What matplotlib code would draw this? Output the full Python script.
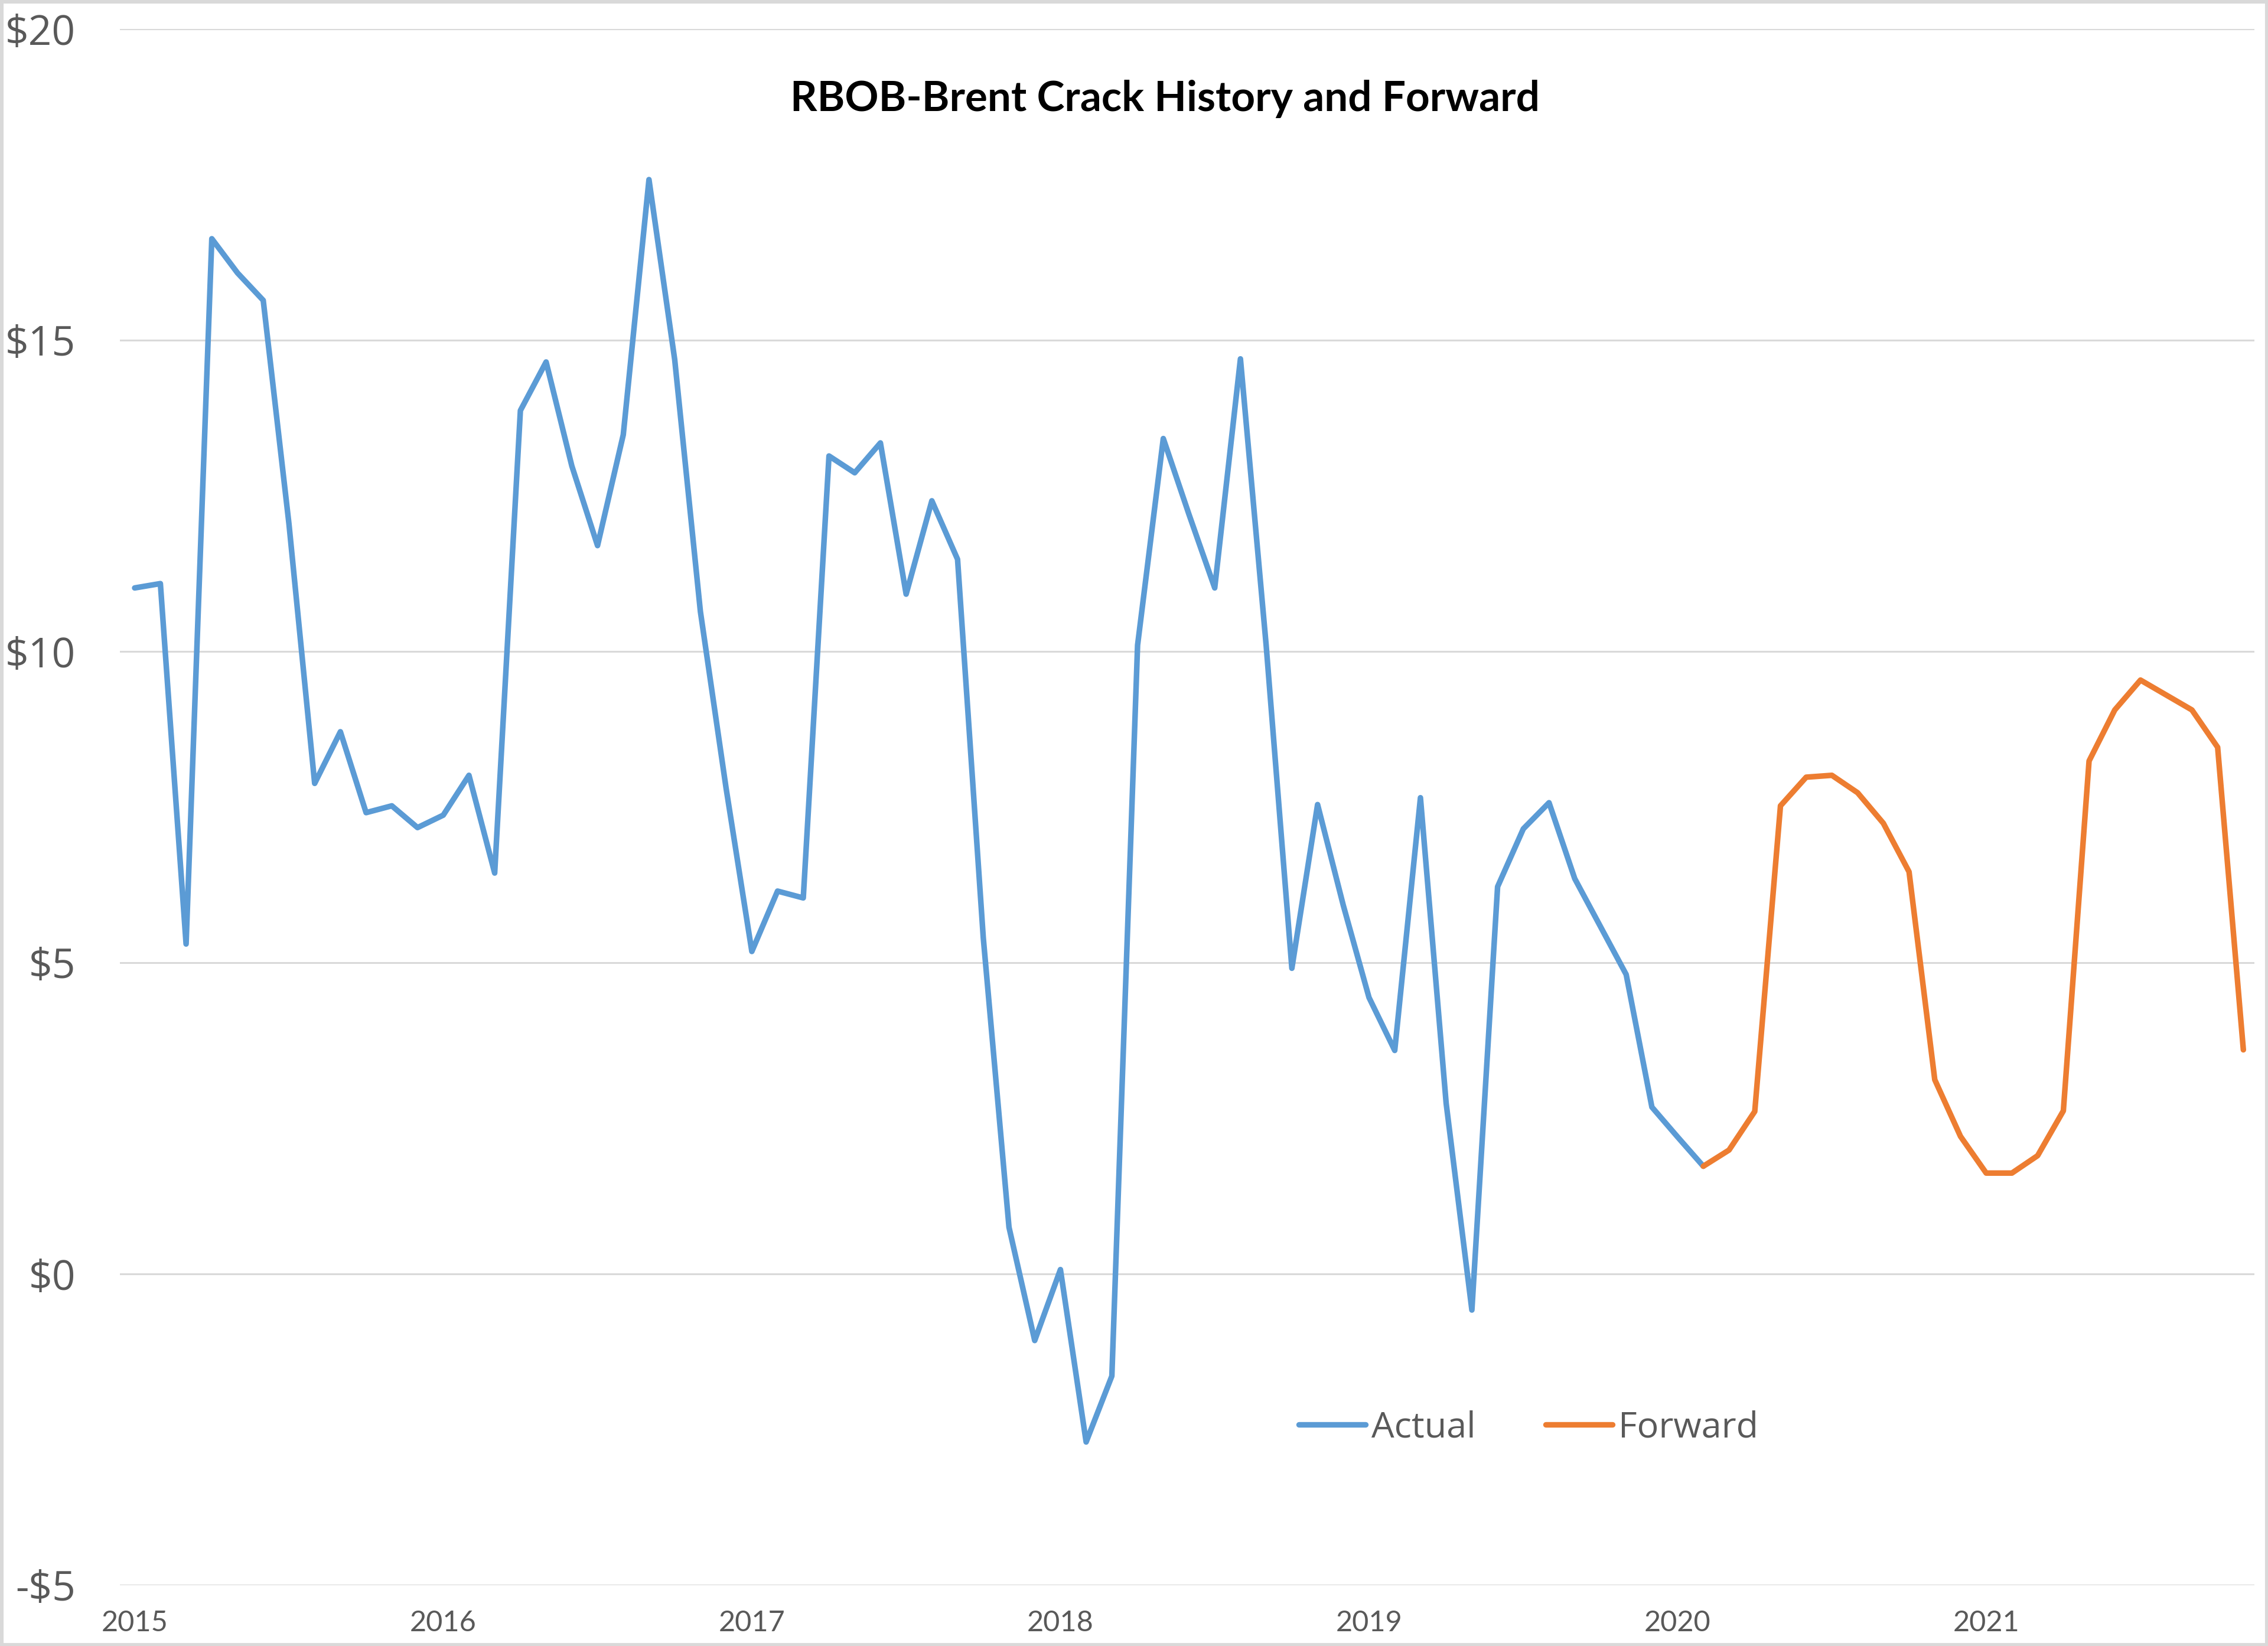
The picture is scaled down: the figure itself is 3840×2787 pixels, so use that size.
import matplotlib
matplotlib.use("Agg")
import matplotlib.pyplot as plt
from matplotlib.patches import Rectangle
import numpy as np

# ---------------- data (monthly, starting Jan 2015) ----------------
actual = [11.02, 11.09, 5.30, 16.63, 16.08, 15.64, 12.05, 7.88, 8.71, 7.41, 7.52, 7.17,
          7.37, 8.01, 6.44, 13.87, 14.65, 12.98, 11.70, 13.48, 17.58, 14.69, 10.64, 7.80,
          5.18, 6.15, 6.04, 13.14, 12.87, 13.35, 10.92, 12.42, 11.48, 5.40, 0.75, -1.07,
          0.07, -2.70, -1.64, 10.10, 13.42, 12.20, 11.02, 14.70, 10.10, 4.91, 7.54, 5.92,
          4.44, 3.59, 7.65, 2.74, -0.58, 6.22, 7.15, 7.57, 6.35, 5.58, 4.81, 2.68,
          2.20, 1.73]
forward = [1.73, 1.99, 2.61, 7.52, 7.98, 8.01, 7.73, 7.24, 6.46, 3.12, 2.21,
           1.62, 1.62, 1.90, 2.62, 8.24, 9.06, 9.54, 9.30, 9.06, 8.46, 3.60]
forward_start = 61          # month index (Feb 2020) where the forward curve begins
year_labels = ["2015", "2016", "2017", "2018", "2019", "2020", "2021"]
y_ticks = [-5, 0, 5, 10, 15, 20]
title = "RBOB-Brent Crack History and Forward"

x_actual = np.arange(len(actual))
x_forward = np.arange(forward_start, forward_start + len(forward))
year_pos = [12 * i for i in range(len(year_labels))]

# ---------------- figure ----------------
W, H, DPI = 3840, 2787, 200
fig = plt.figure(figsize=(W / DPI, H / DPI), dpi=DPI)
fig.patch.set_facecolor("white")

left, right, bottom, top = 203 / W, 3817 / W, 1 - 2684 / H, 1 - 49 / H
ax = fig.add_axes([left, bottom, right - left, top - bottom])

blue = "#5B9BD5"
orange = "#ED7D31"
grey_txt = "#595959"

ax.plot(x_actual, actual, color=blue, lw=3.4, solid_joinstyle="round",
        solid_capstyle="round", label="Actual", zorder=3)
ax.plot(x_forward, forward, color=orange, lw=3.4, solid_joinstyle="round",
        solid_capstyle="round", label="Forward", zorder=3)

ax.set_ylim(-5, 20)
ax.set_xlim(-0.574, 82.43)
ax.set_yticks(y_ticks)
ax.set_yticklabels([("-$%d" % abs(v)) if v < 0 else ("$%d" % v) for v in y_ticks],
                   fontfamily="Open Sans", fontsize=25, color=grey_txt)
ax.set_xticks(year_pos)
ax.set_xticklabels(year_labels, fontfamily="Lato", fontsize=17.5, color=grey_txt)
ax.tick_params(axis="both", length=0)
ax.tick_params(axis="y", pad=27)
ax.tick_params(axis="x", pad=15)

ax.yaxis.grid(True, color="#D9D9D9", lw=1.1)
ax.xaxis.grid(False)
ax.set_axisbelow(True)
for s in ax.spines.values():
    s.set_visible(False)

fig.text(1973 / W, 1 - 167 / H, title, ha="center", va="center",
         fontfamily="Lato", fontweight="bold", fontsize=25.5, color="black")

leg = fig.legend(loc="center", bbox_to_anchor=(2588 / W, 1 - 2417 / H), ncol=2,
                 frameon=False, handlelength=1.85, handletextpad=0.16,
                 columnspacing=1.93, borderpad=0,
                 prop={"family": "Open Sans", "size": 22})
for t in leg.get_texts():
    t.set_color(grey_txt)

fig.patches.append(Rectangle((0, 0), 1, 1, transform=fig.transFigure, fill=False,
                             edgecolor="#D9D9D9", lw=4, zorder=10))

fig.savefig("out.png", dpi=DPI, facecolor="white")
